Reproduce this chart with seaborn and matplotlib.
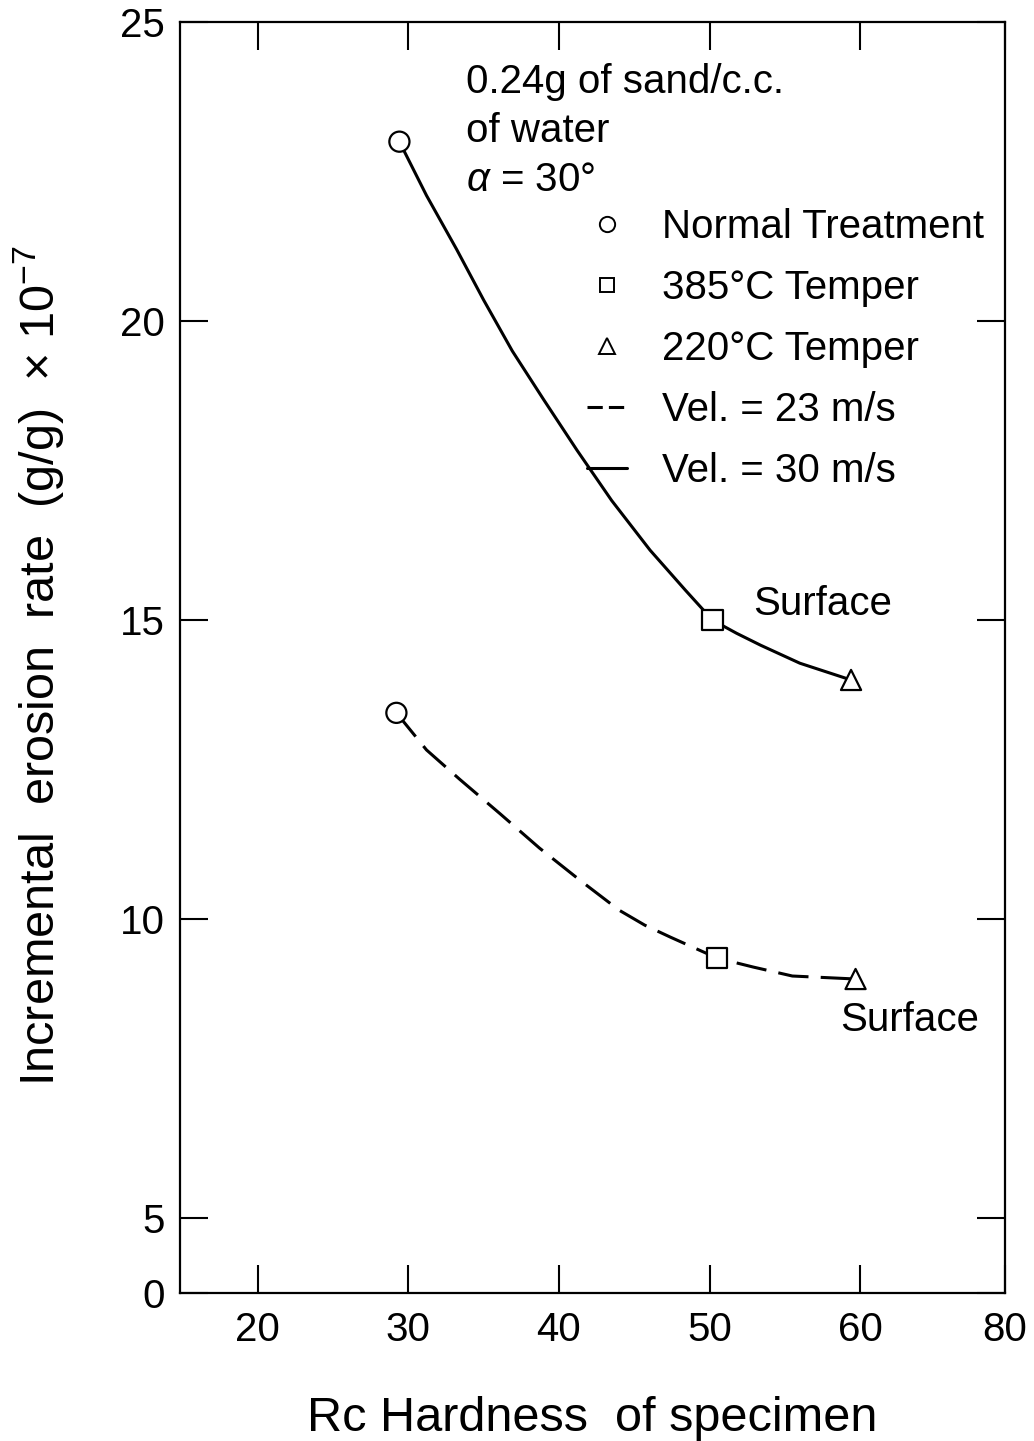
import numpy as np
import pandas as pd
import matplotlib.pyplot as plt
import seaborn as sns
from matplotlib import font_manager
from matplotlib.lines import Line2D

# measured points (Rc hardness, erosion rate in 1e-7 g/g)
treatments = ['Normal Treatment', '385°C Temper', '220°C Temper']
hard_30 = [29.4, 50.2, 59.4]
rate_30 = [23.0, 15.0, 14.0]
hard_23 = [29.2, 50.5, 59.7]
rate_23 = [13.45, 9.35, 9.0]

# hand drawn curves
curve30_x = [29.4, 31.2, 33.2, 35.0, 36.9, 39.0, 41.2, 43.5, 46.05, 48.4,
             50.2, 51.8, 53.4, 56.0, 59.4]
curve30_y = [23.0, 22.1, 21.2, 20.35, 19.5, 18.68, 17.84, 17.0, 16.17, 15.5,
             15.0, 14.78, 14.58, 14.28, 14.0]
curve23_x = [29.2, 31.2, 33.4, 36.1, 38.7, 41.4, 44.0, 45.7, 47.4, 50.5,
             52.9, 55.5, 59.7]
curve23_y = [13.45, 12.83, 12.34, 11.76, 11.19, 10.65, 10.15, 9.9, 9.7, 9.35,
             9.2, 9.05, 9.0]

# axis ticks (the original axes are not linear at the ends)
xticks = [20, 30, 40, 50, 60, 69.63]
xtick_labels = ['20', '30', '40', '50', '60', '80']
yticks = [3.75, 5, 10, 15, 20, 25]
ytick_labels = ['0', '5', '10', '15', '20', '25']

sns.set_style('ticks')
installed = {f.name for f in font_manager.fontManager.ttflist}
narrow = 'Liberation Sans Narrow' if 'Liberation Sans Narrow' in installed else 'Liberation Sans'
plt.rcParams['font.family'] = ['Liberation Sans', 'DejaVu Sans']
plt.rcParams['mathtext.fontset'] = 'custom'
plt.rcParams['mathtext.rm'] = 'Liberation Sans'
plt.rcParams['mathtext.it'] = 'Liberation Sans:italic'
plt.rcParams['text.color'] = 'black'
plt.rcParams['axes.labelcolor'] = 'black'

fig = plt.figure(figsize=(10.34, 14.41), dpi=100)
ax = fig.add_axes([0.174, 0.1027, 0.798, 0.882])

markers = {'Normal Treatment': 'o', '385°C Temper': 's', '220°C Temper': '^'}

sns.lineplot(x=curve30_x, y=curve30_y, sort=False, color='black', lw=2.2, ax=ax)
sns.lineplot(x=curve23_x, y=curve23_y, sort=False, color='black', lw=2.2,
             linestyle=(0, (10, 4)), ax=ax)

df30 = pd.DataFrame({'hardness': hard_30, 'rate': rate_30, 'treatment': treatments})
df23 = pd.DataFrame({'hardness': hard_23, 'rate': rate_23, 'treatment': treatments})
for df in (df30, df23):
    sns.scatterplot(data=df, x='hardness', y='rate', style='treatment', markers=markers,
                    s=210, color='white', edgecolor='black', linewidth=1.6,
                    legend=False, zorder=3, ax=ax)

ax.set_xlim(14.82, 69.63)
ax.set_ylim(3.75, 25)
ax.set_xticks(xticks)
ax.set_xticklabels(xtick_labels, family=narrow)
ax.set_yticks(yticks)
ax.set_yticklabels(ytick_labels, family=narrow)
ax.tick_params(direction='in', length=20, width=1.5, top=True, right=True,
               labelsize=29, color='black', labelcolor='black')
ax.tick_params(axis='x', pad=13)
ax.tick_params(axis='y', pad=11)
for sp in ax.spines.values():
    sp.set_linewidth(1.6)
    sp.set_color('black')

ax.set_xlabel('Rc Hardness  of specimen', fontsize=35, labelpad=34, family=narrow)
ax.set_ylabel('Incremental  erosion  rate  (g/g)  × 10$^{-7}$', fontsize=35)
ax.yaxis.set_label_coords(-0.137, 0.494)

# conditions note
ax.text(33.8, 23.81, '0.24g of sand/c.c.', fontsize=29, va='baseline')
ax.text(33.8, 22.99, 'of water', fontsize=29, va='baseline')
ax.text(33.8, 22.17, '$\\alpha$ = 30°', fontsize=29, va='baseline')

ax.text(57.5, 15.27, 'Surface', fontsize=29, ha='center', va='center')
ax.text(63.3, 8.31, 'Surface', fontsize=29, ha='center', va='center')

handles = [
    Line2D([], [], ls='none', marker='o', ms=11, mfc='white', mec='black', mew=1.4),
    Line2D([], [], ls='none', marker='s', ms=10, mfc='white', mec='black', mew=1.4),
    Line2D([], [], ls='none', marker='^', ms=11, mfc='white', mec='black', mew=1.4),
    Line2D([], [], color='black', lw=2.2, ls=(0, (5, 2))),
    Line2D([], [], color='black', lw=2.2),
]
labels = treatments + ['Vel. = 23 m/s', 'Vel. = 30 m/s']
ax.legend(handles, labels, loc='upper left', bbox_to_anchor=(0.4935, 0.8536),
          frameon=False, fontsize=29, handlelength=1.0, handletextpad=0.85,
          labelspacing=0.57, borderpad=0, borderaxespad=0)

fig.savefig('out.png', dpi=100)
